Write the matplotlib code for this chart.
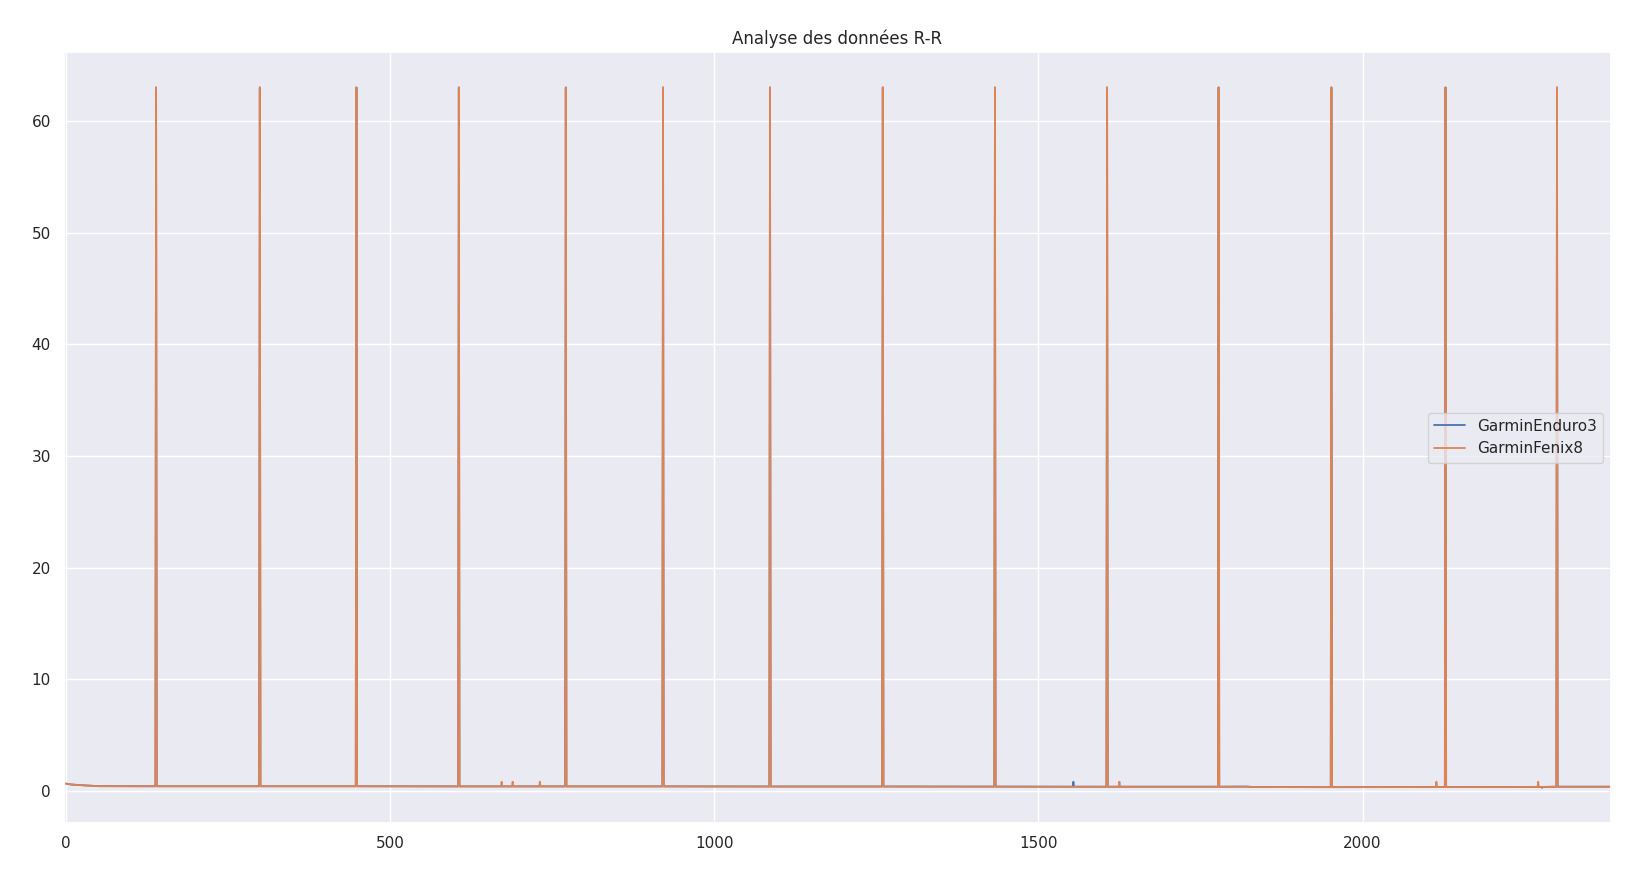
import matplotlib
matplotlib.use('Agg')
import matplotlib.pyplot as plt
import seaborn as sns

# Fenix8 R-R series (index, value): baseline with periodic spikes
fenix_x = [0, 8, 20, 50,
           138, 139, 140,
           298, 299, 300,
           447, 448, 449,
           605, 606, 607,
           671, 672, 673,
           688, 689, 690,
           730, 731, 732,
           770, 771, 772,
           920, 921, 922,
           1085, 1086, 1087,
           1259, 1260, 1261,
           1432, 1433, 1434,
           1605, 1606, 1607,
           1624, 1625, 1626,
           1777, 1778, 1779,
           1820, 1835,
           1951, 1952, 1953,
           2113, 2114, 2115,
           2127, 2128, 2129,
           2270, 2271, 2272,
           2299, 2300, 2301,
           2383]
fenix_y = [0.68, 0.6, 0.55, 0.45,
           0.44, 63.0, 0.44,
           0.44, 63.0, 0.44,
           0.44, 63.0, 0.44,
           0.43, 63.0, 0.43,
           0.43, 0.85, 0.43,
           0.43, 0.85, 0.43,
           0.43, 0.85, 0.43,
           0.43, 63.0, 0.43,
           0.43, 63.0, 0.43,
           0.42, 63.0, 0.42,
           0.42, 63.0, 0.42,
           0.41, 63.0, 0.41,
           0.40, 63.0, 0.40,
           0.40, 0.85, 0.40,
           0.40, 63.0, 0.40,
           0.41, 0.37,
           0.36, 63.0, 0.36,
           0.37, 0.85, 0.37,
           0.37, 63.0, 0.37,
           0.38, 0.85, 0.38,
           0.40, 63.0, 0.40,
           0.40]

# Enduro3 series: same spikes, hidden under Fenix8, a couple of own blips
enduro_x = [0, 8, 20, 50,
            138, 139, 140,
            298, 299, 300,
            447, 448, 449,
            605, 606, 607,
            770, 771, 772,
            920, 921, 922,
            1085, 1086, 1087,
            1259, 1260, 1261,
            1432, 1433, 1434,
            1553, 1554, 1555,
            1605, 1606, 1607,
            1777, 1778, 1779,
            1820, 1835,
            1951, 1952, 1953,
            2127, 2128, 2129,
            2276, 2277, 2278,
            2299, 2300, 2301,
            2383]
enduro_y = [0.68, 0.6, 0.55, 0.45,
            0.44, 63.0, 0.44,
            0.44, 63.0, 0.44,
            0.44, 63.0, 0.44,
            0.43, 63.0, 0.43,
            0.43, 63.0, 0.43,
            0.43, 63.0, 0.43,
            0.42, 63.0, 0.42,
            0.42, 63.0, 0.42,
            0.41, 63.0, 0.41,
            0.40, 0.85, 0.40,
            0.40, 63.0, 0.40,
            0.40, 63.0, 0.40,
            0.41, 0.37,
            0.36, 63.0, 0.36,
            0.37, 63.0, 0.37,
            0.38, 0.30, 0.38,
            0.40, 63.0, 0.40,
            0.40]

sns.set_theme()

fig = plt.figure(figsize=(16.42, 8.81), dpi=100)
ax = fig.add_axes([0.039, 0.066, 0.942, 0.8745])

ax.plot(enduro_x, enduro_y, label='GarminEnduro3', lw=1.3)
ax.plot(fenix_x, fenix_y, label='GarminFenix8', lw=1.3)
ax.set_xlim(-3, 2383)
ax.set_title('Analyse des données R-R')
ax.legend(loc='center right')

plt.savefig('out.png', dpi=100)
plt.close()
